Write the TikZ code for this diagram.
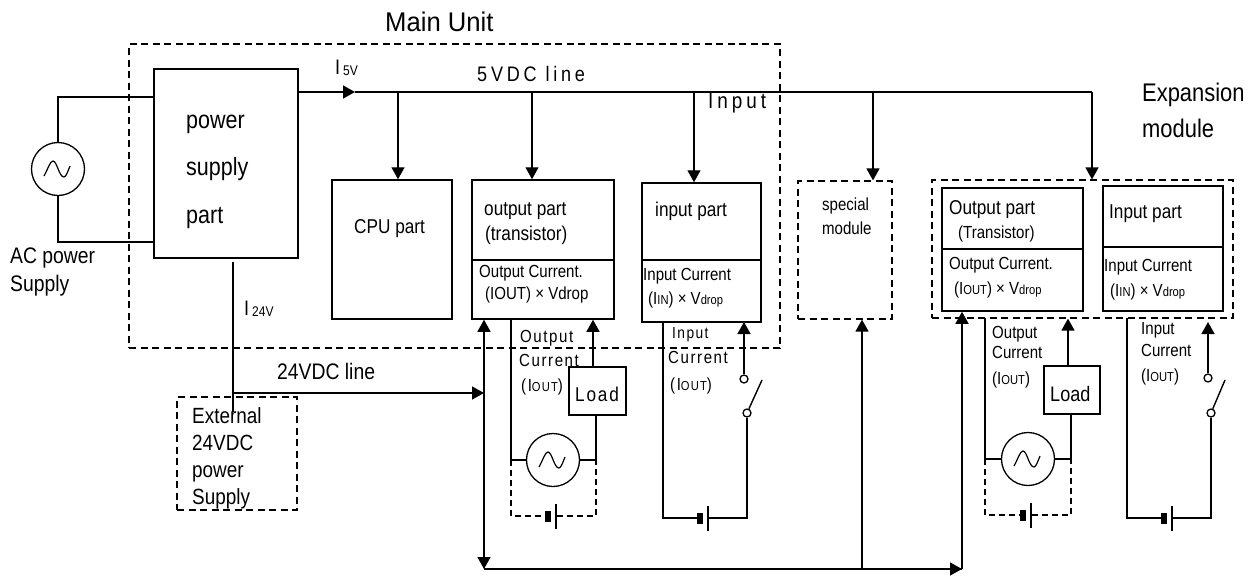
\documentclass[tikz,border=0pt]{standalone}
\usepackage{fontspec}
\setmainfont[FakeStretch=0.86]{Liberation Sans}
\newfontfamily\gapfont[LetterSpace=9,FakeStretch=0.86]{Liberation Sans}
\newfontfamily\widefont[LetterSpace=18,FakeStretch=0.86]{Liberation Sans}
\newfontfamily\titlefont[FakeStretch=0.95]{Liberation Sans}
\usetikzlibrary{arrows.meta}
\newcommand{\fs}[1]{\fontsize{#1}{#1}\selectfont}
\newcommand{\sub}[1]{{\fs{13}#1}}
\tikzset{
	wire/.style={line width=1.4pt},
	feed/.style={wire,-{Triangle[length=12pt,width=13pt]}},
	dashwire/.style={line width=1.1pt,dash pattern=on 6pt off 4pt},
	frame/.style={draw,line width=1.2pt,dash pattern=on 7pt off 4.5pt,inner sep=0pt},
	part/.style={draw,line width=1.5pt,inner sep=0pt},
	acsrc/.style={draw,circle,line width=1.3pt,minimum size=53pt,inner sep=0pt},
	contact/.style={draw,circle,line width=1.3pt,fill=white,minimum size=8pt,inner sep=0pt},
	plate/.style={fill=black,minimum width=6pt,minimum height=11pt,inner sep=0pt},
	thinplate/.style={fill=black,minimum width=1.4pt,minimum height=25pt,inner sep=0pt},
	lbl/.style={anchor=west,inner sep=0pt,font=\fs{#1},text height=.72*#1pt,text depth=0pt},
	big/.style={lbl=25},
	mid/.style={lbl=20},
	small/.style={lbl=17.5},
	gap/.style={lbl=17.5,font=\gapfont\fs{17.5}}
}
\newcommand{\wave}[1]{
	\begin{scope}[shift={(#1.center)}]
		\draw [line width=1.2pt] (-14,7) .. controls (-10,0) and (-8,-8) .. (-5,-8) .. controls (-1,-8) and (1,8) .. (6,8) .. controls (8,8) and (10,2) .. (12,-3);
	\end{scope}
}
\newcommand{\battery}[3]{
	\node [plate] at (#2,#3) (#1a) {};
	\node [thinplate] at (#2+8,#3) (#1b) {};
}
\begin{document}
\begin{tikzpicture}[x=1pt,y=-1pt]
	\useasboundingbox (0,0) rectangle (1248,579);
	% frames
	\node [frame,minimum width=651pt,minimum height=304pt] at (454.5,196) (mainframe) {};
	\node [frame,minimum width=94pt,minimum height=138pt] at (845,250) (special) {};
	\node [frame,minimum width=301pt,minimum height=138pt] at (1082.5,249) (expframe) {};
	\node [frame,minimum width=120pt,minimum height=113pt] at (237,453.5) (external) {};
	% main unit parts
	\node [part,minimum width=144pt,minimum height=189pt] at (226,163.5) (power) {};
	\node [part,minimum width=120pt,minimum height=139pt] at (392,249.5) (cpu) {};
	\node [part,minimum width=142pt,minimum height=139pt] at (543,249.5) (outpart) {};
	\node [part,minimum width=119pt,minimum height=139pt] at (701.5,252.5) (inpart) {};
	\node [part,minimum width=141pt,minimum height=123pt] at (1012.5,249.5) (outexp) {};
	\node [part,minimum width=120pt,minimum height=125pt] at (1163,248.5) (inexp) {};
	\node [part,minimum width=57pt,minimum height=48pt] at (597.5,391) (load) {};
	\node [part,minimum width=56pt,minimum height=48pt] at (1072,390) (loadexp) {};
	\draw [wire] (outpart.west |- 0,260) -- (outpart.east |- 0,260);
	\draw [wire] (inpart.west |- 0,260) -- (inpart.east |- 0,260);
	\draw [wire] (outexp.west |- 0,249) -- (outexp.east |- 0,249);
	\draw [wire] (inexp.west |- 0,247) -- (inexp.east |- 0,247);
	% ac sources
	\foreach \n/\i/\j in {acmain/58/169, acout/553/460, acexp/1028/459}{
		\node [acsrc] at (\i,\j) (\n) {};
		\wave{\n}
	}
	\coordinate (actop) at (58,97);
	\coordinate (acbot) at (58,242);
	\draw [wire] (acmain) -- (actop) -- (actop -| power.west);
	\draw [wire] (acmain) -- (acbot) -- (acbot -| power.west);
	% 5V line
	\coordinate (line5v) at (298,92);
	\coordinate (mark5v) at (355,92);
	\coordinate (end5v) at (1092,92);
	\draw [feed] (line5v) -- (mark5v);
	\draw [wire] (mark5v) -- (end5v);
	\draw [feed] (end5v) -- (end5v |- expframe.north);
	\foreach \n/\i in {cpu/398, outpart/532, inpart/694, special/873}{
		\coordinate (tap\n) at (\i,92);
		\draw [feed] (tap\n) -- (tap\n |- \n.north);
	}
	% 24V line
	\coordinate (top24v) at (233,262);
	\coordinate (low24v) at (233,412);
	\coordinate (mid24v) at (233,393);
	\coordinate (bus24v) at (484,393);
	\draw [wire] (top24v) -- (low24v);
	\draw [feed] (mid24v) -- (bus24v);
	% return bus
	\coordinate (busa) at (484,569);
	\coordinate (busb) at (862,569);
	\coordinate (busc) at (962,569);
	\draw [wire] (busa) -- (busc);
	\draw [feed] (busb) -- (busc);
	\draw [feed] (bus24v) -- (busa);
	\draw [feed] (bus24v) -- (bus24v |- outpart.south);
	\draw [feed] (busb) -- (busb |- special.south);
	\draw [feed] (busc) -- (busc |- outexp.south);
	% output circuits
	\foreach \n/\a/\b/\c/\d/\e/\t/\l in {acout/511/596/460/516/548/319/load, acexp/985/1071/459/515/1023/318/loadexp}{
		\coordinate (\n l) at (\a,\c);
		\coordinate (\n r) at (\b,\c);
		\coordinate (\n dl) at (\a,\d);
		\coordinate (\n dr) at (\b,\d);
		\coordinate (\n t) at (\a,\t);
		\battery{\n bat}{\e}{\d}
		\draw [wire] (\n t) -- (\n l) -- (\n);
		\draw [wire] (\n) -- (\n r) -- (\n r |- \l.south);
		\draw [dashwire] (\n l) -- (\n dl) -- (\n bata);
		\draw [dashwire] (\n batb) -- (\n dr) -- (\n r);
	}
	\coordinate (loadup) at (593,367);
	\coordinate (loadupexp) at (1068,366);
	\draw [feed] (loadup) -- (loadup |- outpart.south);
	\draw [feed] (loadupexp) -- (loadupexp |- expframe.south);
	% input circuits
	\foreach \n/\a/\b/\c/\d/\t/\e/\f/\g/\h in {swin/663/747/518/700/322/744/379/762/322, swexp/1127/1211/518/1164/318/1208/378/1225/322}{
		\coordinate (\n t) at (\a,\t);
		\coordinate (\n bl) at (\a,\c);
		\coordinate (\n br) at (\b,\c);
		\battery{\n bat}{\d}{\c}
		\node [contact] at (\b,413) (\n low) {};
		\node [contact] at (\e,\f) (\n up) {};
		\coordinate (\n arm) at (\g,380);
		\coordinate (\n in) at (\e,\h);
		\draw [wire] (\n t) -- (\n bl) -- (\n bata);
		\draw [wire] (\n batb) -- (\n br) -- (\n low);
		\draw [wire] (\n low) -- (\n arm);
		\draw [feed] (\n up) -- (\n in);
	}
	% titles
	\node [lbl=27,font=\titlefont\fs{27}] at (385,22) (mainlbl) {Main Unit};
	\node [lbl=25.5] at (1142,92) (explbl) {Expansion};
	\node [lbl=25.5] at (1142,128) (modlbl) {module};
	\node [lbl=22.5] at (10,255) (aclbl) {AC power};
	\node [lbl=22.5] at (10,283) (acsup) {Supply};
	\foreach \i/\j/\t in {119/a/power, 166/b/supply, 214/c/part}{
		\node [big] at (186,\i) (pw\j) {\t};
	}
	\node [mid] at (354,226) (cpulbl) {CPU part};
	\node [lbl=21] at (335,67) (i5) {I};
	\node [lbl=14] at (343,70) (i5sub) {5V};
	\node [lbl=21] at (244,308) (i24) {I};
	\node [lbl=14] at (252,311) (i24sub) {24V};
	\node [lbl=21,font=\widefont\fs{21}] at (477,74) (line5lbl) {5VDC line};
	\node [lbl=22,font=\widefont\fs{22}] at (708,101) (inputlbl) {Input};
	\node [lbl=22.5] at (277,371) (line24lbl) {24VDC line};
	\foreach \i/\j/\t in {416/a/External, 443/b/24VDC, 470/c/power, 497/d/Supply}{
		\node [lbl=22] at (192,\i) (ext\j) {\t};
	}
	% main unit part texts
	\node [mid] at (484,208) (outa) {output part};
	\node [mid] at (485,233) (outb) {(transistor)};
	\node [small] at (479,271) (outc) {Output Current.};
	\node [small] at (485,293) (outd) {(IOUT) × Vdrop};
	\node [mid] at (655,209) (ina) {input part};
	\node [small] at (643,274) (inb) {Input Current};
	\node [small] at (648,298) (inc) {(I\sub{IN}) × V\sub{drop}};
	\node [gap] at (520,336) (oa) {Output};
	\node [gap] at (519,360) (ob) {Current};
	\node [gap] at (521,385) (oc) {(I\sub{OUT})};
	\node [lbl=20,font=\gapfont\fs{20}] at (575,394) (loadlbl) {Load};
	\node [lbl=16,font=\gapfont\fs{16}] at (672,333) (ia) {Input};
	\node [gap] at (668,357) (ib) {Current};
	\node [gap] at (670,384) (ic) {(I\sub{OUT})};
	% special and expansion texts
	\node [small] at (822,204) (spa) {special};
	\node [small] at (822,228) (spb) {module};
	\node [mid] at (949,207) (exa) {Output part};
	\node [small] at (958,232) (exb) {(Transistor)};
	\node [small] at (949,263) (exc) {Output Current.};
	\node [small] at (954,288) (exd) {(I\sub{OUT}) × V\sub{drop}};
	\node [mid] at (1109,211) (exe) {Input part};
	\node [small] at (1104,265) (exf) {Input Current};
	\node [small] at (1110,290) (exg) {(I\sub{IN}) × V\sub{drop}};
	\node [small] at (992,332) (eoa) {Output};
	\node [small] at (992,352) (eob) {Current};
	\node [small] at (992,378) (eoc) {(I\sub{OUT})};
	\node [lbl=21] at (1050,394) (loadexplbl) {Load};
	\node [small] at (1141,328) (eia) {Input};
	\node [small] at (1141,350) (eib) {Current};
	\node [small] at (1141,375) (eic) {(I\sub{OUT})};
\end{tikzpicture}
\end{document}
